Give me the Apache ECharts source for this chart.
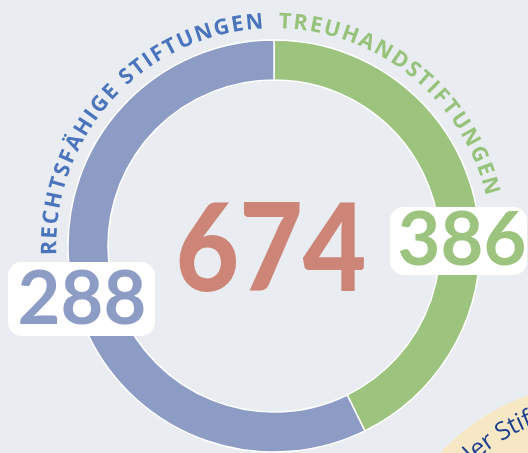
<!DOCTYPE html>
<html>
<head>
<meta charset="utf-8">
<script src="https://cdn.jsdelivr.net/npm/echarts@6/dist/echarts.min.js"></script>
<style>
  html, body { margin: 0; padding: 0; background: #E9ECF1; }
  #main { width: 528px; height: 453px; }
</style>
</head>
<body>
<div id="main"></div>
<script>
// Stiftungen nach Rechtsform
var categories = ['Treuhandstiftungen', 'Rechtsfähige Stiftungen'];
var ringTitles = ['TREUHANDSTIFTUNGEN', 'RECHTSFÄHIGE STIFTUNGEN'];
var counts = [386, 288];
// arc sizes as drawn in the picture (green arc only spans ~153 deg)
var arcShares = [288, 386];
var colors = ['#9DC47F', '#8D9CC5'];
var titleColors = ['#97C27A', '#4A74BC'];

var total = counts.reduce(function(a, b) { return a + b; }, 0);

var myChart = echarts.init(document.getElementById('main'));

var cx = 274, cy = 246;
var measure = document.createElement('canvas').getContext('2d');

// letters along a circle, angle in degrees clockwise from top
function arcText(str, r, fromDeg, toDeg, font, color) {
	measure.font = font;
	var chars = str.split('');
	var w = chars.map(function(c) { return measure.measureText(c).width; });
	var sum = 0;
	for (var i = 1; i < w.length; i++) sum += (w[i - 1] + w[i]) / 2;
	var arcLen = (toDeg - fromDeg) * Math.PI / 180 * r;
	var gap = (arcLen - sum) / (w.length - 1);
	var out = [];
	var pos = 0;
	for (var j = 0; j < chars.length; j++) {
		if (j > 0) pos += (w[j - 1] + w[j]) / 2 + gap;
		var a = fromDeg * Math.PI / 180 + pos / r;
		out.push({
			type: 'text',
			x: cx + r * Math.sin(a),
			y: cy - r * Math.cos(a),
			rotation: -a,
			silent: true,
			z: 50,
			style: {
				text: chars[j], font: font, fill: color,
				align: 'center', verticalAlign: 'middle',
				textAlign: 'center', textVerticalAlign: 'middle'
			}
		});
	}
	return out;
}

function arcTextFree(str, ox, oy, r, startDeg, font, color) {
	measure.font = font;
	var out = [];
	var pos = 0;
	var chars = str.split('');
	for (var j = 0; j < chars.length; j++) {
		var w = measure.measureText(chars[j]).width;
		var a = startDeg * Math.PI / 180 + (pos + w / 2) / r;
		pos += w;
		out.push({
			type: 'text',
			x: ox + r * Math.sin(a),
			y: oy - r * Math.cos(a),
			rotation: -a,
			silent: true,
			z: 5,
			style: {
				text: chars[j], font: font, fill: color,
				align: 'center', verticalAlign: 'middle',
				textAlign: 'center', textVerticalAlign: 'middle'
			}
		});
	}
	return out;
}

var graphics = [];

// beige badge in the corner
graphics.push({
	type: 'circle', silent: true, z: 4,
	shape: { cx: 600, cy: 600, r: 217 },
	style: { fill: '#F6E8C5' }
});
graphics = graphics.concat(arcTextFree('der Stiftungen', 600, 600, 194, -45.5, '25px "Open Sans"', '#1E3F8F'));

graphics = graphics.concat(arcText(ringTitles[1], 224, 269.5, 355, 'bold 21.5px "Open Sans"', titleColors[1]));
graphics = graphics.concat(arcText(ringTitles[0], 224, 2.8, 74.4, 'bold 21.5px "Open Sans"', titleColors[0]));

// total in the middle
graphics.push({
	type: 'text', x: 271, y: 252, scaleX: 0.9, silent: true, z: 60,
	style: {
		text: String(total), font: '900 122px Lato', fill: '#CD8577',
		align: 'center', verticalAlign: 'middle',
		textAlign: 'center', textVerticalAlign: 'middle'
	}
});

// value boxes
graphics.push({
	type: 'rect', silent: true, z: 60,
	shape: { x: 8, y: 262, width: 147, height: 74, r: 14 },
	style: { fill: '#FFFFFF' }
});
graphics.push({
	type: 'text', x: 82, y: 300, silent: true, z: 61,
	style: {
		text: String(counts[1]), font: 'bold 74px Lato', fill: colors[1],
		align: 'center', verticalAlign: 'middle',
		textAlign: 'center', textVerticalAlign: 'middle'
	}
});
graphics.push({
	type: 'rect', silent: true, z: 60,
	shape: { x: 390, y: 207, width: 137, height: 68, r: 14 },
	style: { fill: '#FFFFFF' }
});
graphics.push({
	type: 'text', x: 462, y: 241, silent: true, z: 61,
	style: {
		text: String(counts[0]), font: 'bold 74px Lato', fill: colors[0],
		align: 'center', verticalAlign: 'middle',
		textAlign: 'center', textVerticalAlign: 'middle'
	}
});

var option = {
	backgroundColor: '#E9ECF1',
	animation: false,
	graphic: { elements: graphics },
	series: [
		{
			name: 'Stiftungen',
			type: 'pie',
			radius: [166, 206],
			center: [cx, cy],
			startAngle: 90,
			clockwise: true,
			silent: true,
			z: 10,
			label: { show: false },
			labelLine: { show: false },
			emphasis: { disabled: true },
			itemStyle: { borderColor: '#FFFFFF', borderWidth: 1.5 },
			data: categories.map(function(c, i) {
				return { name: c, value: arcShares[i], itemStyle: { color: colors[i] } };
			})
		}
	]
};
myChart.setOption(option);
</script>
</body>
</html>
